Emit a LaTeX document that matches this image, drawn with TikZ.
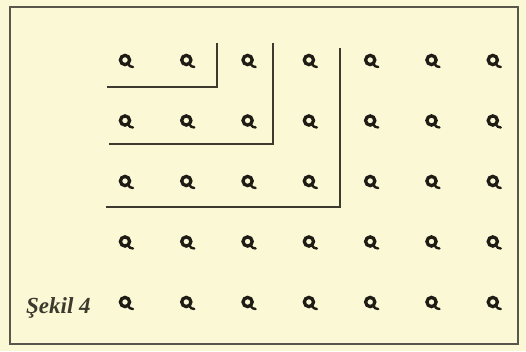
\documentclass[tikz,border=0pt]{standalone}
\usepackage{fontspec}
\setmainfont{Liberation Serif}
\usetikzlibrary{positioning}
\definecolor{paper}{HTML}{FBF8D6}
\definecolor{ink}{HTML}{1E1C14}
\definecolor{rule}{HTML}{3C3A2C}

\begin{document}
\begin{tikzpicture}[x=1pt,y=-1pt,every node/.style={font=\bfseries\itshape\fontsize{23}{26}\selectfont}]
  \fill[paper] (0,0) rectangle (526,351);
  \useasboundingbox (0,0) rectangle (526,351);
  \draw[rule!85,line width=1.6pt] (10,7) rectangle (518,344);
  % grid of loops
  \foreach \r in {0,...,4}{
    \foreach \c in {0,...,6}{
      \coordinate (q\r\c) at ({125+61.3*\c},{60+60.5*\r});
      \draw[ink,line width=3.3pt,shift={(q\r\c)}] (0,0) circle (4.6);
      \draw[ink,line width=2.4pt,line cap=round,shift={(q\r\c)}] (3,4) .. controls (5,6.5) .. (8,7);}}
  % nested corners
  \foreach \xa/\xb/\yb/\yt [count=\k] in {107/217/87/43,109/273/144/43,106/340/207/48}{
    \coordinate (h\k) at (\xa,\yb);
    \coordinate (k\k) at (\xb,\yb);
    \coordinate (v\k) at (\xb,\yt);
    \draw[rule,line width=1.4pt] (h\k) -- (k\k) -- (v\k);}
  \node[anchor=base west,inner sep=0pt,text=rule] (lbl) at (26,313) {Şekil 4};
\end{tikzpicture}
\end{document}
